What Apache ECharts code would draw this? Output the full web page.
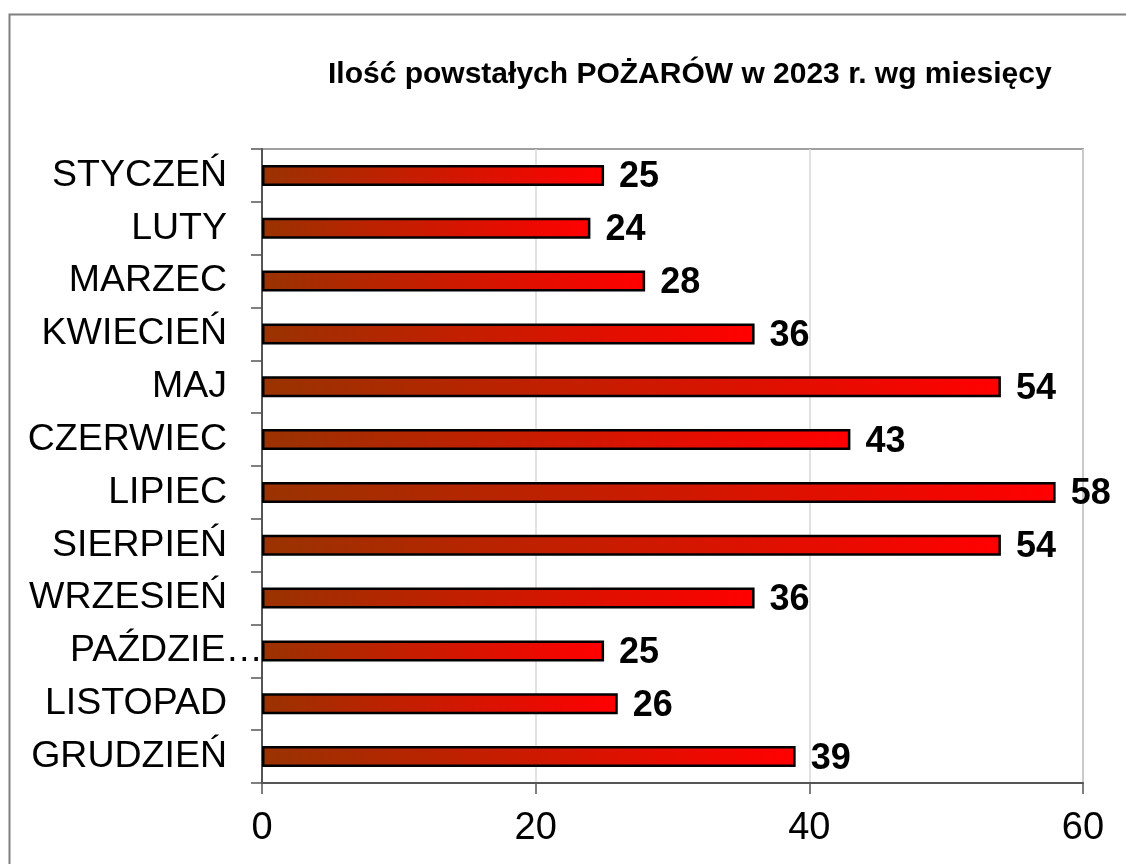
<!DOCTYPE html>
<html>
<head>
<meta charset="utf-8">
<script src="https://cdn.jsdelivr.net/npm/echarts@6/dist/echarts.min.js"></script>
<style>
html,body{margin:0;padding:0;background:#fff;}
#c{width:1126px;height:864px;}
</style>
</head>
<body>
<div id="c"></div>
<script>
const title = 'Ilość powstałych POŻARÓW w 2023 r. wg miesięcy';
const months = ['STYCZEŃ','LUTY','MARZEC','KWIECIEŃ','MAJ','CZERWIEC','LIPIEC','SIERPIEŃ','WRZESIEŃ','PAŹDZIE…','LISTOPAD','GRUDZIEŃ'];
const fires = [25,24,28,36,54,43,58,54,36,25,26,39];
const xTicks = [0,20,40,60];

const FONT = '"Liberation Sans", Arial, sans-serif';
const categoryData = months.map(function(m){
  return m.endsWith('…') ? {value:m, textStyle:{padding:[0,-36,0,0]}} : m;
});
const chart = echarts.init(document.getElementById('c'), null, {renderer:'canvas'});
chart.setOption({
  backgroundColor:'#ffffff',
  animation:false,
  title:{
    text:title, left:323, top:55,
    textStyle:{fontFamily:FONT, fontSize:30, fontWeight:'bold', color:'#000'}
  },
  graphic:[{
    type:'rect', left:7, top:12, shape:{width:1300, height:1000},
    style:{fill:'none', stroke:'#808080', lineWidth:2}, z:-1
  }],
  grid:{left:262, right:43, top:149, bottom:81, containLabel:false,
    show:true, borderColor:'#808080', borderWidth:1.5, backgroundColor:'transparent'},
  xAxis:{
    type:'value', min:xTicks[0], max:xTicks[xTicks.length-1], interval:20,
    axisLine:{show:true, lineStyle:{color:'#555', width:2}},
    axisTick:{show:true, length:11, lineStyle:{color:'#555', width:1.5}},
    splitLine:{show:true, lineStyle:{color:'#d9d9d9', width:1.5}},
    axisLabel:{fontFamily:FONT, fontSize:38, color:'#000', margin:27}
  },
  yAxis:{
    type:'category', inverse:true, data:categoryData,
    axisLine:{show:true, lineStyle:{color:'#555', width:2}},
    axisTick:{show:true, length:11, lineStyle:{color:'#555', width:1.5}},
    axisLabel:{fontFamily:FONT, fontSize:37.5, color:'#000', margin:35}
  },
  series:[{
    type:'bar', data:fires, barWidth:21,
    itemStyle:{
      color:new echarts.graphic.LinearGradient(0,0,1,0,[{offset:0,color:'#993300'},{offset:1,color:'#ff0000'}]),
      borderColor:'#000', borderWidth:2.5
    },
    label:{show:true, position:'right', distance:15, offset:[0,2], fontFamily:FONT, fontSize:36, fontWeight:'bold', color:'#000'}
  }]
});
</script>
</body>
</html>
